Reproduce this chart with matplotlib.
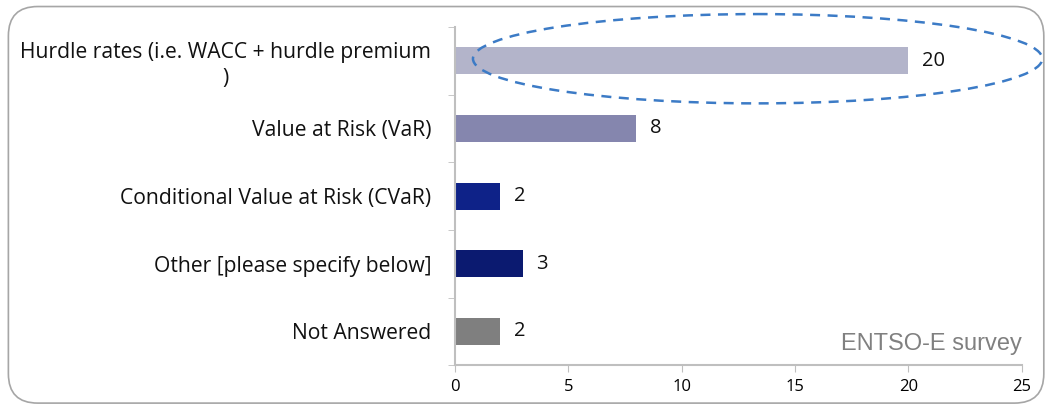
import matplotlib
matplotlib.use("Agg")
import matplotlib.pyplot as plt
from matplotlib.patches import Ellipse, FancyBboxPatch

categories = ["Hurdle rates (i.e. WACC + hurdle premium\n)",
              "Value at Risk (VaR)",
              "Conditional Value at Risk (CVaR)",
              "Other [please specify below]",
              "Not Answered"]
values = [20, 8, 2, 3, 2]
colors = ["#B3B4CA", "#8586AE", "#0E2288", "#0B1A70", "#7F7F7F"]
xticks = [0, 5, 10, 15, 20, 25]

plt.rcParams['font.family'] = ['Open Sans', 'DejaVu Sans']

fig = plt.figure(figsize=(10.48, 4.08), dpi=100)
# rounded outer frame
frame = FancyBboxPatch((0.008, 0.012), 0.988, 0.972,
                       boxstyle="round,pad=0,rounding_size=0.028",
                       transform=fig.transFigure, fill=False,
                       edgecolor="#A6A6A6", linewidth=1.2, mutation_aspect=1048/408)
fig.patches.append(frame)

ax = fig.add_axes([0.434, 0.105, 0.541, 0.829])
pos = list(range(len(categories)))
ax.barh(pos, values, height=0.4, color=colors)
for p, v in zip(pos, values):
    ax.text(v + 0.6, p, str(v), va="center", ha="left", fontsize=14.5, color="#111111")

ax.set_xlim(0, 25)
ax.set_ylim(4.5, -0.5)
ax.set_xticks(xticks)
ax.set_xticklabels([str(t) for t in xticks], fontsize=12)
ax.set_yticks(pos)
ax.set_yticklabels(categories, fontsize=15.2, multialignment="center", color="#111111",
                   linespacing=1.3)
ax.set_yticks([i - 0.5 for i in range(len(categories) + 1)], minor=True)
ax.tick_params(axis="y", which="major", length=0, pad=17)
ax.tick_params(axis="y", which="minor", length=5, color="#BFBFBF", direction="out")
ax.tick_params(axis="x", length=5, color="#BFBFBF", direction="out", pad=5)
for s in ["top", "right"]:
    ax.spines[s].set_visible(False)
ax.spines["left"].set_color("#BFBFBF")
ax.spines["bottom"].set_color("#BFBFBF")
ax.spines["left"].set_linewidth(1.5)
ax.spines["bottom"].set_linewidth(1.5)

ell = Ellipse((13.35, -0.03), 25.1, 1.32, fill=False, edgecolor="#3C7BC6",
              linestyle=(0, (4, 3)), linewidth=1.8, clip_on=False)
ax.add_patch(ell)

ax.text(1.0, 0.03, "ENTSO-E survey", transform=ax.transAxes, ha="right", va="bottom",
        fontsize=17, color="#808080", family="Liberation Sans")

fig.savefig("out.png", dpi=100)
